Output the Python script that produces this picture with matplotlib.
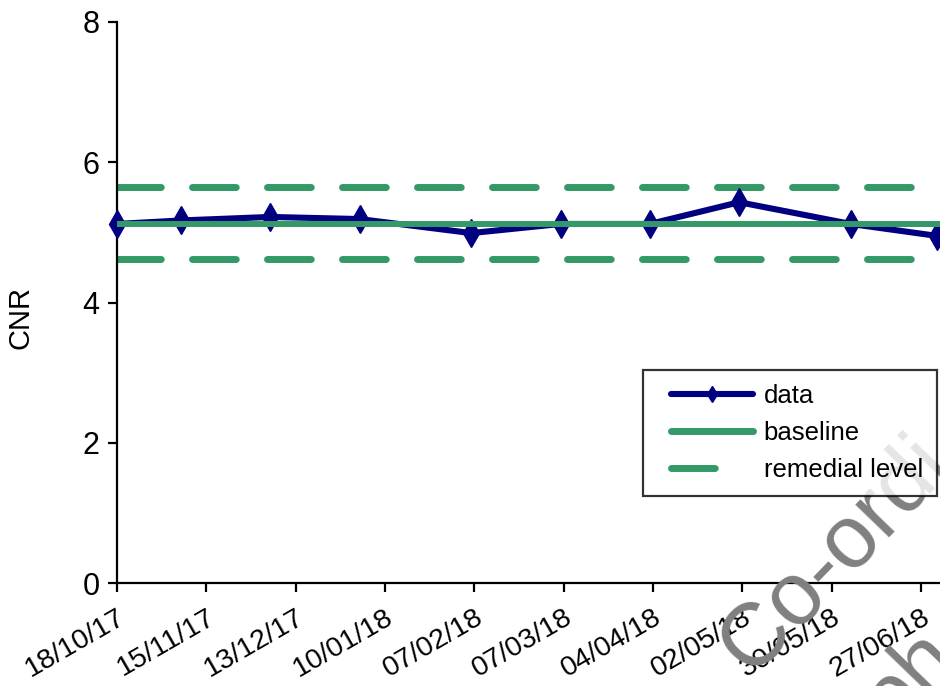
import datetime as dt
import matplotlib
matplotlib.use("Agg")
import matplotlib.pyplot as plt
import matplotlib.dates as mdates
from matplotlib.lines import Line2D
from matplotlib.legend_handler import HandlerLine2D

plt.rcParams['font.family'] = ['Liberation Sans', 'DejaVu Sans']

# measurement dates and CNR values
dates = ["18/10/17", "07/11/17", "05/12/17", "02/01/18", "06/02/18",
         "06/03/18", "03/04/18", "01/05/18", "05/06/18", "02/07/18"]
cnr = [5.12, 5.17, 5.22, 5.19, 4.99, 5.12, 5.12, 5.43, 5.12, 4.95]

baseline = 5.12
remedial_upper = 5.64
remedial_lower = 4.62

tick_dates = ["18/10/17", "15/11/17", "13/12/17", "10/01/18", "07/02/18",
              "07/03/18", "04/04/18", "02/05/18", "30/05/18", "27/06/18"]
y_ticks = [0, 2, 4, 6, 8]

navy = '#000080'
green = '#339966'


def to_date(s):
    return dt.datetime.strptime(s, "%d/%m/%y")


def graph():
    x = [to_date(d) for d in dates]
    ticks = [to_date(d) for d in tick_dates]

    fig = plt.figure(figsize=(9.4, 6.86), dpi=100)
    ax = fig.add_axes([0.1245, 0.150, 0.93, 0.818])

    # 28 days ~ 89.5 px in the reference
    x0 = to_date("18/10/17")
    x1 = x0 + dt.timedelta(days=274)
    ax.set_xlim(x0, x1)
    ax.set_ylim(0, 8)

    dash = (6.3, 4.5)
    ax.axhline(remedial_upper, color=green, lw=5, dashes=dash,
               dash_capstyle='round', zorder=2)
    ax.axhline(remedial_lower, color=green, lw=5, dashes=dash,
               dash_capstyle='round', zorder=2)
    ax.plot(x, cnr, color=navy, lw=4.4, marker='d', markersize=14,
            zorder=3, clip_on=False)
    ax.axhline(baseline, color=green, lw=4.3, solid_capstyle='butt', zorder=4)

    ax.set_xticks(ticks)
    ax.xaxis.set_major_formatter(mdates.DateFormatter("%d/%m/%y"))
    for lbl in ax.get_xticklabels():
        lbl.set_rotation(30)
        lbl.set_ha('right')
        lbl.set_va('top')
        lbl.set_rotation_mode('anchor')
        lbl.set_fontsize(20.5)

    ax.set_yticks(y_ticks)
    ax.tick_params(axis='both', width=1.6, length=6.5,
                   direction='out', color='black')
    ax.tick_params(axis='y', labelsize=22, pad=6)
    ax.tick_params(axis='x', pad=9)

    for side in ['top', 'right']:
        ax.spines[side].set_visible(False)
    for side in ['left', 'bottom']:
        ax.spines[side].set_linewidth(1.6)

    ax.set_ylabel("CNR", fontsize=21)
    ax.yaxis.set_label_coords(-0.094, 0.474)

    handles = [
        Line2D([], [], color=navy, lw=4.4, marker='d', markersize=8,
               solid_capstyle='round'),
        Line2D([], [], color=green, lw=5, solid_capstyle='round'),
        Line2D([], [], color=green, lw=5, dashes=(6.3, 12),
               dash_capstyle='round'),
    ]
    leg = fig.legend(handles, ["data", "baseline", "remedial level"],
                     loc='upper left', bbox_to_anchor=(0.684, 0.461),
                     fontsize=18.5, frameon=True, fancybox=False,
                     edgecolor='black', handlelength=3.75, handletextpad=0.4,
                     labelspacing=0.5, borderpad=0.55, borderaxespad=0,
                     handler_map={Line2D: HandlerLine2D(xpad=0.55)})
    leg.get_frame().set_linewidth(1.6)

    # partial watermark in the lower right corner
    fig.text(764 / 940, -0.005, "Co-ordi", rotation=46, fontsize=64,
             color='#808080', ha='left', va='bottom', rotation_mode='anchor')
    fig.text(905 / 940, -0.085, "ph", rotation=46, fontsize=64,
             color='#808080', ha='left', va='bottom', rotation_mode='anchor')

    fig.savefig("out.png", dpi=100)


if __name__ == '__main__':
    graph()
